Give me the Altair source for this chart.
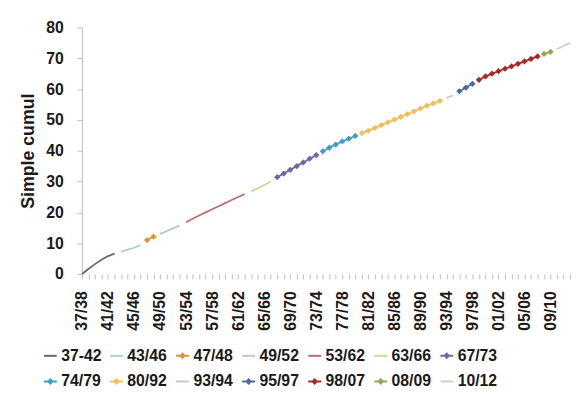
import altair as alt
import pandas as pd
import json

seasons = [f"{y % 100:02d}/{(y + 1) % 100:02d}" for y in range(1937, 2013)]
shown_labels = seasons[::4]

series_names = ["37-42", "43/46", "47/48", "49/52", "53/62", "63/66", "67/73",
                "74/79", "80/92", "93/94", "95/97", "98/07", "08/09", "10/12"]
series_counts = [6, 4, 2, 4, 10, 4, 7, 6, 13, 2, 3, 10, 2, 3]
series_colors = ["#6e6478", "#9fd6d8", "#d9953a", "#b4c8dc", "#b9706e", "#c6d98e", "#6f68a6",
                 "#3f9fc0", "#f0c060", "#c8c8c8", "#4a6a98", "#a52a2a", "#9aa45a", "#cfcfcf"]
marker_series = ["47/48", "67/73", "74/79", "80/92", "95/97", "98/07", "08/09"]

values = [0.0, 1.6, 3.2, 4.6, 5.8, 6.6, 7.2, 7.9, 8.5, 9.4,
          11.0, 12.1, 13.0, 13.9, 14.8, 15.7, 16.8, 17.9, 19.0, 20.0,
          21.0, 22.0, 23.0, 24.0, 25.0, 25.9, 26.8, 27.8, 28.9, 30.0,
          31.4, 32.6, 33.8, 35.0, 36.2, 37.4, 38.6, 39.8, 41.0, 42.0,
          43.0, 43.9, 44.8, 45.7, 46.5, 47.4, 48.3, 49.2, 50.1, 51.0,
          51.9, 52.8, 53.7, 54.6, 55.4, 56.2, 57.1, 58.0, 59.3, 60.5,
          61.7, 63.0, 64.1, 65.0, 65.8, 66.6, 67.4, 68.2, 69.0, 69.8,
          70.6, 71.4, 72.1, 73.0, 74.0, 75.0]

series_col, colour_col = [], []
for name, n, c in zip(series_names, series_counts, series_colors):
    series_col += [name] * n
    colour_col += [c] * n

df = pd.DataFrame({"season": seasons, "value": values, "series": series_col, "colour": colour_col})
df_pts = df[df["series"].isin(marker_series)]

FONT = "Liberation Sans"

label_expr = "indexof(" + json.dumps(shown_labels) + ", datum.value) >= 0 ? datum.value : ''"

x_enc = alt.X("season:O", sort=seasons,
              scale=alt.Scale(type="point", padding=0),
              axis=alt.Axis(title=None, labelAngle=-90, labelAlign="right", labelBaseline="middle",
                            labelExpr=label_expr, labelOverlap=False, labelPadding=12,
                            domain=False, ticks=True, tickSize=5, tickColor="#bdbdbd",
                            labelFontSize=16, labelFontWeight="bold", labelFont=FONT,
                            labelColor="#1a1a1a"))
y_enc = alt.Y("value:Q", scale=alt.Scale(domain=[0, 80], nice=False),
              axis=alt.Axis(title="Simple cumul", values=list(range(0, 81, 10)), grid=False,
                            domainColor="#bdbdbd", tickColor="#bdbdbd", tickSize=5,
                            labelPadding=14, labelFontSize=16, labelFontWeight="bold",
                            labelFont=FONT, labelColor="#1a1a1a",
                            titleFontSize=18, titleFontWeight="bold", titleFont=FONT,
                            titleColor="#1a1a1a", titlePadding=8))

line_path = "M-1,0H1"
marker_path = "M-1,0H1M-0.32,0L0,-0.32L0.32,0L0,0.32Z"
legend_shapes = [marker_path if s in marker_series else line_path for s in series_names]

legend = alt.Legend(
    title=None, orient="none", legendX=-40, legendY=325, direction="horizontal", columns=7,
    symbolSize=169, symbolStrokeWidth=2, symbolOpacity=1,
    labelFont=FONT, labelFontSize=16, labelFontWeight="bold", labelColor="#1a1a1a",
    labelOffset=3, columnPadding=4, rowPadding=10, symbolOffset=0,
)

lines = alt.Chart(df).mark_line(strokeWidth=1.8).encode(
    x=x_enc, y=y_enc,
    detail="series:N",
    stroke=alt.Stroke("colour:N", scale=None),
)
points = alt.Chart(df_pts).mark_point(filled=True, shape="diamond", size=40, opacity=1,
                                      strokeWidth=0).encode(
    x=x_enc, y=y_enc,
    fill=alt.Fill("colour:N", scale=None),
)
legend_layer = alt.Chart(df).mark_point(filled=False, strokeWidth=2).encode(
    x=x_enc, y=y_enc,
    color=alt.Color("series:N", scale=alt.Scale(domain=series_names, range=series_colors),
                    legend=legend),
    shape=alt.Shape("series:N", scale=alt.Scale(domain=series_names, range=legend_shapes),
                    legend=legend),
    opacity=alt.value(0),
)

chart = alt.layer(lines, points, legend_layer).properties(
    width=495, height=250,
    autosize=alt.AutoSizeParams(type="none"),
    padding={"left": 75, "top": 17, "right": 4, "bottom": 120},
).configure_view(stroke=None)

chart.save("out.html", embed_options={"renderer": "svg", "actions": False})
